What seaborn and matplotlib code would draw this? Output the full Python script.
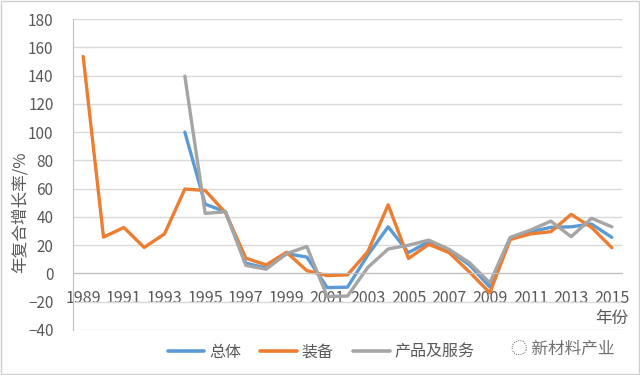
import numpy as np
import pandas as pd
import seaborn as sns
import matplotlib
matplotlib.use("Agg")
import matplotlib.pyplot as plt
from matplotlib.ticker import MultipleLocator

years = list(range(1989, 2016))

# 装备 (equipment), full series from 1989
equip = [153.5, 25.7, 32.5, 18.4, 28.0, 59.7, 58.7, 43.0, 10.8, 6.0,
         15.0, 2.0, -1.5, -1.0, 15.4, 48.5, 10.6, 20.6, 14.7, 1.0,
         -13.7, 24.0, 28.0, 29.5, 41.8, 32.6, 18.2]

# 总体 (overall), from 1994
total_years = list(range(1994, 2016))
total = [100.0, 49.0, 43.6, 7.3, 3.8, 14.0, 11.6, -10.0, -9.7, 13.0,
         33.0, 14.7, 22.5, 16.5, 6.0, -9.5, 24.8, 29.5, 32.6, 33.0,
         35.0, 25.5]

# 产品及服务 (products and services), from 1994
prod = [139.6, 42.5, 43.6, 5.7, 3.0, 14.0, 19.0, -16.3, -16.0, 4.3,
        17.3, 20.0, 23.6, 17.0, 7.6, -6.6, 25.5, 30.7, 37.0, 26.0,
        39.0, 33.0]

series_names = ["总体", "装备", "产品及服务"]
colors = ["#5b9bd5", "#ed7d31", "#a5a5a5"]
xtick_years = list(range(1989, 2016, 2))

df = pd.concat([
    pd.DataFrame({"year": total_years, "value": total, "series": "总体"}),
    pd.DataFrame({"year": years, "value": equip, "series": "装备"}),
    pd.DataFrame({"year": total_years, "value": prod, "series": "产品及服务"}),
], ignore_index=True)

sns.set_style("white")
plt.rcParams["font.family"] = ["Noto Sans CJK SC", "DejaVu Sans"]

fig = plt.figure(figsize=(6.4, 3.75), dpi=100)
ax = fig.add_axes([73 / 640, 45 / 375, 549 / 640, 311 / 375])

sns.lineplot(data=df, x="year", y="value", hue="series",
             hue_order=series_names, palette=colors, linewidth=2.4,
             ax=ax, legend=False)

ax.set_xlim(1988.5, 2015.5)
ax.set_ylim(-40, 180)
ax.yaxis.set_major_locator(MultipleLocator(20))
ax.yaxis.set_minor_locator(MultipleLocator(4))
ax.grid(axis="y", color="#d9d9d9", linewidth=1)
ax.set_axisbelow(True)

for s in ["top", "right"]:
    ax.spines[s].set_visible(False)
ax.spines["left"].set_color("#bfbfbf")
ax.spines["bottom"].set_color("#bfbfbf")
ax.spines["bottom"].set_position(("data", 0))

ax.set_xticks(xtick_years)
ax.set_xticklabels([str(y) for y in xtick_years])
ax.tick_params(axis="x", length=0, pad=12, labelsize=11.5, labelcolor="#595959")
ax.tick_params(axis="y", which="both", direction="in", length=4,
               color="#bfbfbf", labelsize=11, labelcolor="#595959", pad=14)
ax.tick_params(axis="y", which="major", length=0)

ax.set_xlabel("")
ax.set_ylabel("年复合增长率/%", fontsize=12, color="#595959", labelpad=4)
ax.yaxis.set_label_coords(-0.08, 0.38)

fig.text(612 / 640, 1 - 318 / 375, "年份", ha="center", va="center",
         fontsize=12, color="#595959")

# legend
handles = [plt.Line2D([0], [0], color=c, lw=2.6) for c in colors]
fig.legend(handles, series_names, loc="center", bbox_to_anchor=(321 / 640, 1 - 352 / 375),
           ncol=3, frameon=False, fontsize=11.5, handlelength=2.3,
           columnspacing=1.2, handletextpad=0.3, labelcolor="#595959")

fig.text(563 / 640, 1 - 349 / 375, "◌ 新材料产业", ha="center", va="center",
         fontsize=12, color="#707070")

# frame around figure
fig.patches.append(plt.Rectangle((0.002, 0.003), 0.996, 0.994, transform=fig.transFigure,
                                 fill=False, edgecolor="#d0d0d0", linewidth=1))

fig.savefig("out.png", dpi=100)
